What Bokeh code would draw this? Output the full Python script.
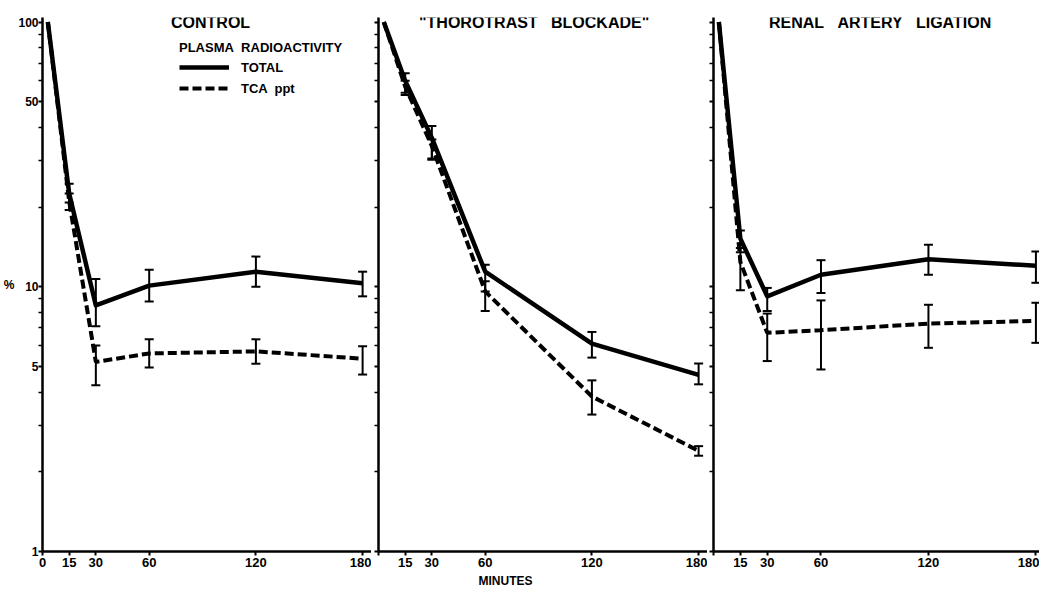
from bokeh.plotting import figure
from bokeh.models import (FixedTicker, NumeralTickFormatter, CustomJSTickFormatter, Label,
                          Legend, LegendItem, Whisker, ColumnDataSource, TeeHead, Title)
from bokeh.layouts import row
from bokeh.embed import file_html
from bokeh.resources import INLINE

# ---------------- data ----------------
minutes = [3, 15, 30, 60, 120, 180]
err_minutes = [15, 30, 60, 120, 180]
x_ticks = [0, 15, 30, 60, 120, 180]
y_ticks = [1, 5, 10, 50, 100]
y_minor = [2, 3, 4, 6, 7, 8, 9, 20, 30, 40, 60, 70, 80, 90]

panel_titles = ["CONTROL", "\"THOROTRAST\u00a0\u00a0\u00a0BLOCKADE\"",
                "RENAL\u00a0\u00a0\u00a0ARTERY\u00a0\u00a0\u00a0LIGATION"]

control_total = [100, 22.5, 8.5, 10.1, 11.4, 10.3]
control_total_lo = [20.8, 7.1, 8.8, 10.0, 9.2]
control_total_hi = [24.5, 10.7, 11.6, 13.0, 11.4]
control_tca = [100, 21.0, 5.2, 5.6, 5.7, 5.35]
control_tca_lo = [19.5, 4.25, 4.95, 5.12, 4.66]
control_tca_hi = [22.5, 6.0, 6.34, 6.33, 5.96]

thoro_total = [100, 60, 36.5, 11.4, 6.1, 4.65]
thoro_total_lo = [54, 30.5, 9.6, 5.4, 4.28]
thoro_total_hi = [64, 40.5, 12.1, 6.75, 5.13]
thoro_tca = [100, 57, 34, 9.6, 3.85, 2.4]
thoro_tca_lo = [53, 30.2, 8.1, 3.29, 2.30]
thoro_tca_hi = [60, 36, 10.5, 4.43, 2.50]

renal_total = [100, 15.2, 9.2, 11.1, 12.7, 12.0]
renal_total_lo = [13.5, 8.1, 9.47, 11.1, 10.35]
renal_total_hi = [16.3, 9.9, 12.6, 14.4, 13.6]
renal_tca = [100, 12.4, 6.7, 6.85, 7.26, 7.43]
renal_tca_lo = [9.7, 5.24, 4.87, 5.88, 6.14]
renal_tca_hi = [14.0, 7.92, 8.88, 8.55, 8.7]

FONT = "Liberation Sans"
FRAME_H = 534
Y_END = 104


def make_panel(title, title_x, total, total_lo, total_hi, tca, tca_lo, tca_hi,
               x_end, frame_w, border_left, show_y_labels, show_zero, legend=False,
               xlabel=None):
    p = figure(x_range=(0, x_end), y_range=(1, Y_END), y_axis_type="log",
               frame_width=frame_w, frame_height=FRAME_H,
               min_border_left=border_left, min_border_right=0,
               min_border_top=17, min_border_bottom=38,
               output_backend="svg", toolbar_location=None)
    p.grid.visible = False
    p.outline_line_color = None
    p.background_fill_color = "white"
    p.border_fill_color = "white"

    src = ColumnDataSource(dict(t=minutes, total=total, tca=tca))
    esrc_total = ColumnDataSource(dict(t=err_minutes, lo=total_lo, hi=total_hi))
    esrc_tca = ColumnDataSource(dict(t=err_minutes, lo=tca_lo, hi=tca_hi))

    r_tca = p.line("t", "tca", source=src, line_color="black", line_width=4,
                   line_dash="9 4")
    r_total = p.line("t", "total", source=src, line_color="black", line_width=4.5,
                     line_join="round")

    for es in (esrc_total, esrc_tca):
        w = Whisker(source=es, base="t", lower="lo", upper="hi", line_color="black",
                    line_width=2,
                    upper_head=TeeHead(size=9, line_width=2, line_color="black"),
                    lower_head=TeeHead(size=9, line_width=2, line_color="black"))
        p.add_layout(w)

    # axes
    xa = p.xaxis[0]
    xa.ticker = FixedTicker(ticks=x_ticks)
    xa.axis_line_width = 2.5
    xa.major_tick_line_width = 2
    xa.major_tick_out = 4
    xa.major_tick_in = 0
    xa.minor_tick_line_color = None
    xa.major_label_text_font = FONT
    xa.major_label_text_font_style = "bold"
    xa.major_label_text_font_size = "13px"
    xa.major_label_text_color = "black"
    xa.major_label_standoff = 2
    if not show_zero:
        xa.major_label_overrides = {0: ""}

    ya = p.yaxis[0]
    ya.ticker = FixedTicker(ticks=y_ticks, minor_ticks=y_minor)
    ya.axis_line_width = 2.5
    ya.major_tick_line_width = 2
    ya.major_tick_out = 4
    ya.major_tick_in = 0
    ya.minor_tick_line_width = 1.5
    ya.minor_tick_out = 4
    ya.minor_tick_in = 0
    ya.major_label_standoff = 0
    ya.major_label_text_font = FONT
    ya.major_label_text_font_style = "bold"
    ya.major_label_text_font_size = "12px"
    ya.major_label_text_color = "black"
    if show_y_labels:
        ya.formatter = NumeralTickFormatter(format="0")
        ya.axis_label = "%"
        ya.axis_label_orientation = "horizontal"
        ya.axis_label_standoff = 1
        ya.axis_label_text_font = FONT
        ya.axis_label_text_font_style = "bold"
        ya.axis_label_text_font_size = "12px"
        ya.axis_label_text_color = "black"
    else:
        ya.formatter = CustomJSTickFormatter(code="return ''")

    p.add_layout(Label(x=title_x, y=100, text=title, text_align="center",
                       text_baseline="middle", text_font=FONT,
                       text_font_style="bold", text_font_size="16px",
                       text_color="black"))

    if xlabel is not None:
        p.add_layout(Title(text=xlabel[1], align="left", offset=xlabel[0], standoff=4,
                           text_font=FONT, text_font_style="bold",
                           text_font_size="12px", text_color="black"), "below")

    if legend:
        lg = Legend(items=[LegendItem(label="TOTAL", renderers=[r_total]),
                           LegendItem(label="TCA  ppt", renderers=[r_tca])],
                    location=(137, 453), title="PLASMA\u00a0\u00a0RADIOACTIVITY",
                    title_text_font=FONT, title_text_font_style="bold",
                    title_text_font_size="13px", title_text_color="black",
                    title_standoff=2,
                    label_text_font=FONT, label_text_font_style="bold",
                    label_text_font_size="13px", label_text_color="black",
                    glyph_width=50, glyph_height=20,
                    label_height=20, label_standoff=12, spacing=1, padding=0,
                    margin=0, border_line_color=None, background_fill_alpha=0)
        p.add_layout(lg)
    return p


p1 = make_panel(panel_titles[0], 94.5, control_total, control_total_lo, control_total_hi,
                control_tca, control_tca_lo, control_tca_hi,
                x_end=185, frame_w=329, border_left=41, show_y_labels=True,
                show_zero=True, legend=True)
p2 = make_panel(panel_titles[1], 87.5, thoro_total, thoro_total_lo, thoro_total_hi,
                thoro_tca, thoro_tca_lo, thoro_tca_hi,
                x_end=185, frame_w=329, border_left=7, show_y_labels=False,
                show_zero=False, xlabel=(100, "MINUTES"))
p3 = make_panel(panel_titles[2], 93, renal_total, renal_total_lo, renal_total_hi,
                renal_tca, renal_tca_lo, renal_tca_hi,
                x_end=182, frame_w=326, border_left=6, show_y_labels=False,
                show_zero=False)

layout = row(p1, p2, p3, spacing=0)
open("out.html", "w").write(file_html(layout, INLINE))
